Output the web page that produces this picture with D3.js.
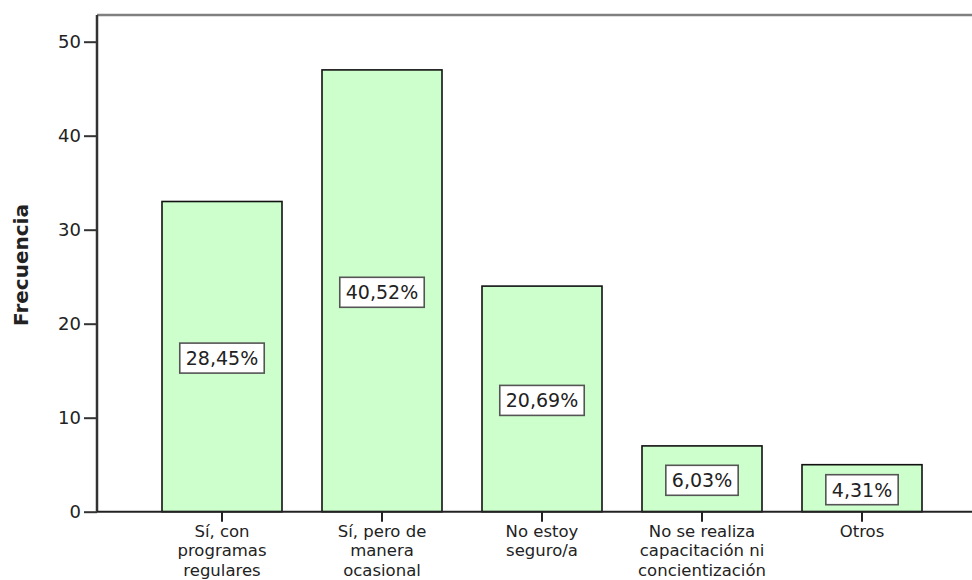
<!DOCTYPE html>
<html>
<head>
<meta charset="utf-8">
<script src="https://cdn.jsdelivr.net/npm/d3@7"></script>
<style>
  body { margin: 0; background: #fff; }
  text { font-family: "DejaVu Sans", Verdana, sans-serif; fill: #222; }
</style>
</head>
<body>
<script>
// chart data
var categories = [
  ["Sí, con", "programas", "regulares"],
  ["Sí, pero de", "manera", "ocasional"],
  ["No estoy", "seguro/a"],
  ["No se realiza", "capacitación ni", "concientización"],
  ["Otros"]
];
var frecuencias = [33, 47, 24, 7, 5];
var porcentajes = ["28,45%", "40,52%", "20,69%", "6,03%", "4,31%"];
var yTicks = [0, 10, 20, 30, 40, 50];

var svgWidth = 972, svgHeight = 580;

var svg = d3.select("body").append("svg")
  .attr("width", svgWidth)
  .attr("height", svgHeight);

// scales
var x = d3.scaleBand()
  .domain(d3.range(categories.length))
  .range([142, 942])
  .paddingInner(0.25)
  .paddingOuter(0.125);

var y = d3.scaleLinear()
  .domain([0, 50])
  .range([511.7, 41.7]);

var plotLeft = 97, plotTop = 15, plotBottom = y(0);

// frame (right side runs off the picture)
svg.append("path")
  .attr("d", `M${plotLeft},${plotTop}H${svgWidth + 20}`)
  .attr("stroke", "#808080")
  .attr("stroke-width", 2.5)
  .attr("fill", "none");

// bars
svg.selectAll(".bar")
  .data(frecuencias)
  .enter()
  .append("rect")
  .attr("class", "bar")
  .attr("x", (d, i) => x(i))
  .attr("y", d => y(d))
  .attr("width", x.bandwidth())
  .attr("height", d => y(0) - y(d))
  .attr("fill", "#ccffcc")
  .attr("stroke", "#111")
  .attr("stroke-width", 1.6);

// percentage labels in white boxes
var labels = svg.selectAll(".pct")
  .data(frecuencias)
  .enter()
  .append("g")
  .attr("class", "pct")
  .attr("transform", (d, i) => `translate(${x(i) + x.bandwidth() / 2}, ${(y(d) + y(0)) / 2 + 1.5})`);

labels.append("text")
  .attr("text-anchor", "middle")
  .attr("dy", "0.36em")
  .style("font-size", "19px")
  .text((d, i) => porcentajes[i])
  .each(function() {
    var bb = this.getBBox();
    d3.select(this.parentNode).insert("rect", "text")
      .attr("x", bb.x - 6)
      .attr("y", -15)
      .attr("width", bb.width + 12)
      .attr("height", 30)
      .attr("fill", "#fff")
      .attr("stroke", "#555")
      .attr("stroke-width", 1.6);
  });

// y axis
var leftAxis = d3.axisLeft(y).tickValues(yTicks).tickSize(13).tickPadding(3);
var gy = svg.append("g")
  .attr("transform", `translate(${plotLeft}, 0)`)
  .call(leftAxis);
gy.select(".domain").attr("d", `M0,${plotTop}V${plotBottom}`).attr("stroke", "#333").attr("stroke-width", 2.5);
gy.selectAll(".tick line").attr("stroke", "#333").attr("stroke-width", 2);
gy.selectAll(".tick text").style("font-size", "18px").style("font-family", "DejaVu Sans").attr("fill", "#222");

// x axis
var bottomAxis = d3.axisBottom(x).tickSize(10).tickFormat("");
var gx = svg.append("g")
  .attr("transform", `translate(0, ${plotBottom})`)
  .call(bottomAxis);
gx.select(".domain").attr("d", `M${plotLeft},0H${svgWidth + 20}`).attr("stroke", "#222").attr("stroke-width", 2);
gx.selectAll(".tick line").attr("stroke", "#222").attr("stroke-width", 2);

// category labels, one line per tspan
var catText = svg.selectAll(".cat")
  .data(categories)
  .enter()
  .append("text")
  .attr("class", "cat")
  .attr("text-anchor", "middle")
  .style("font-size", "16.5px");

catText.selectAll("tspan")
  .data((d, i) => d.map(line => ({ line: line, i: i })))
  .enter()
  .append("tspan")
  .attr("x", d => x(d.i) + x.bandwidth() / 2)
  .attr("y", (d, j) => plotBottom + 25 + j * 19.5)
  .text(d => d.line);

// y axis title
svg.append("text")
  .attr("transform", "translate(28, 265) rotate(-90)")
  .attr("text-anchor", "middle")
  .style("font-size", "20px")
  .style("font-weight", "bold")
  .text("Frecuencia");
</script>
</body>
</html>
